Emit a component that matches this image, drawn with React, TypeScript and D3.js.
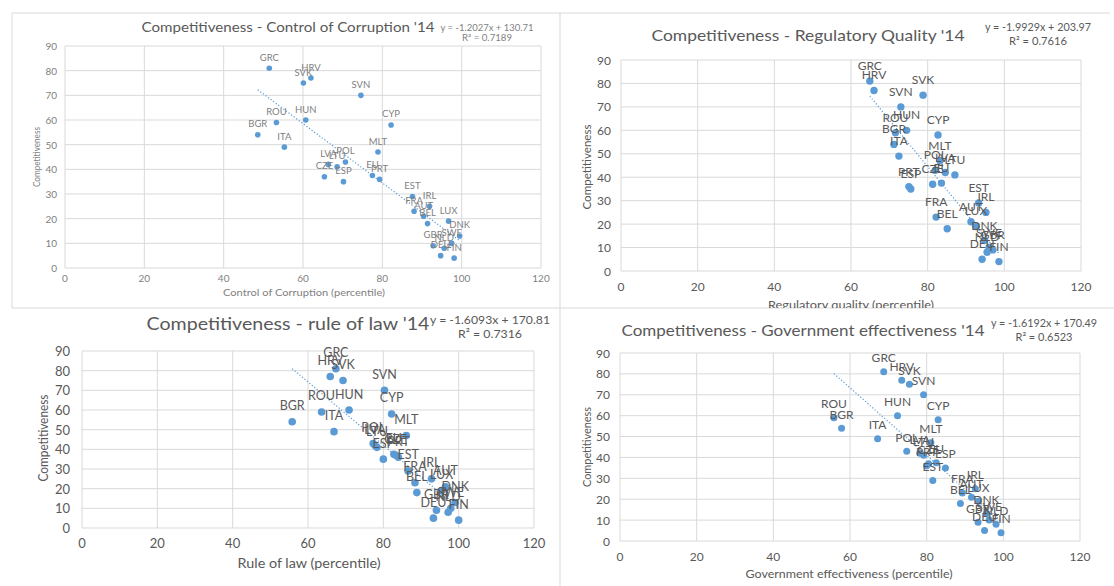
import React from 'react';
import * as d3 from 'd3';

// EU member states + EU average
const countries = ['GRC', 'HRV', 'SVK', 'SVN', 'HUN', 'ROU', 'CYP', 'BGR', 'ITA', 'MLT', 'POL', 'LVA', 'LTU', 'EU', 'CZE', 'PRT', 'ESP', 'EST', 'IRL', 'FRA', 'AUT', 'LUX', 'BEL', 'DNK', 'SWE', 'GBR', 'NLD', 'DEU', 'FIN'];
const competitiveness = [81, 77, 75, 70, 60, 59, 58, 54, 49, 47, 43, 42, 41, 37.5, 37, 36, 35, 29, 25, 23, 21, 19, 18, 13, 10, 9, 8, 5, 4];

const controlOfCorruption = [51.5, 62.0, 60.1, 74.6, 60.7, 53.3, 82.2, 48.6, 55.3, 78.9, 70.7, 66.4, 68.6, 77.5, 65.4, 79.3, 70.2, 87.6, 91.9, 88.0, 90.4, 96.7, 91.4, 99.5, 97.5, 92.8, 95.6, 94.7, 98.1];
const regulatoryQuality = [64.9, 66.0, 78.8, 73.0, 74.5, 71.6, 82.7, 71.2, 72.5, 83.2, 82.0, 84.6, 87.1, 83.6, 81.3, 75.1, 75.6, 93.3, 95.2, 82.2, 91.3, 92.6, 85.1, 94.8, 96.0, 97.0, 95.5, 94.2, 98.6];
const ruleOfLaw = [67.4, 65.9, 69.3, 80.3, 70.9, 63.6, 82.2, 55.8, 66.9, 86.1, 77.3, 77.8, 78.3, 82.8, 83.3, 84.0, 80.0, 86.6, 92.8, 88.4, 96.5, 95.5, 88.9, 99.1, 97.9, 94.1, 97.2, 93.3, 100];
const governmentEffectiveness = [68.8, 73.5, 75.5, 79.2, 72.4, 55.8, 83.0, 57.8, 67.2, 81.1, 74.8, 78.2, 79.2, 82.5, 80.5, 80.0, 84.9, 81.6, 92.7, 89.3, 91.7, 93.5, 88.8, 95.6, 96.3, 93.4, 98.1, 95.1, 99.4];

const xTicks = [0, 20, 40, 60, 80, 100, 120];
const yTicks = [0, 10, 20, 30, 40, 50, 60, 70, 80, 90];

const titles = [
  "Competitiveness - Control of Corruption '14",
  "Competitiveness - Regulatory Quality '14",
  "Competitiveness - rule of law '14",
  "Competitiveness - Government effectiveness '14",
];
const xTitles = [
  'Control of Corruption (percentile)',
  'Regulatory quality (percentile)',
  'Rule of law (percentile)',
  'Government effectiveness (percentile)',
];
const slopes = [-1.2027, -1.9929, -1.6093, -1.6192];
const intercepts = [130.71, 203.97, 170.81, 170.49];
const rSquared = ['0.7189', '0.7616', '0.7316', '0.6523'];
const xSeries = [controlOfCorruption, regulatoryQuality, ruleOfLaw, governmentEffectiveness];

const BLUE = '#5B9BD5';
const GRID = '#d9d9d9';
const FONT = 'Lato, "Open Sans", sans-serif';

// layout of each panel (pixel positions)
const layouts = [
  { left: 65, right: 541, top: 46, bottom: 268, titleX: 288, titleY: 27, titleSize: 12.5, titleW: 293,
    eqX: 487, eqY: 28, r2Y: 38, eqSize: 8.5, eqW: 93, r2W: 50, tick: 10, xTickY: 278, yTickX: 57,
    xtX: 304, xtY: 292, xtSize: 10, xtW: 162, ytX: 36, ytY: 157, ytW: 60, lab: 9.5, labOff: 11, r: 2.8, col: '#7f7f7f' },
  { left: 621, right: 1081, top: 60, bottom: 271, titleX: 808, titleY: 34, titleSize: 16, titleW: 313,
    eqX: 1038, eqY: 27, r2Y: 41, eqSize: 10.5, eqW: 106, r2W: 58, tick: 12, xTickY: 286, yTickX: 611,
    xtX: 851, xtY: 304, xtSize: 11.5, xtW: 166, ytX: 586, ytY: 167, ytW: 85, lab: 12, labOff: 15.5, r: 3.7, col: '#595959' },
  { left: 82, right: 534, top: 351, bottom: 528, titleX: 288, titleY: 324, titleSize: 16.5, titleW: 283,
    eqX: 490, eqY: 319, r2Y: 333, eqSize: 12, eqW: 120, r2W: 64, tick: 13, xTickY: 543, yTickX: 70,
    xtX: 309, xtY: 563, xtSize: 13, xtW: 143, ytX: 43, ytY: 438, ytW: 87, lab: 12.5, labOff: 16, r: 3.8, col: '#595959' },
  { left: 620, right: 1080, top: 353, bottom: 541, titleX: 803, titleY: 329, titleSize: 16, titleW: 363,
    eqX: 1044, eqY: 323, r2Y: 337, eqSize: 10.5, eqW: 106, r2W: 57, tick: 12, xTickY: 556, yTickX: 610,
    xtX: 849, xtY: 573, xtSize: 12, xtW: 207, ytX: 586, ytY: 447, ytW: 80, lab: 12, labOff: 14, r: 3.5, col: '#595959' },
];

function Panel({ idx }: { idx: number }) {
  const L = layouts[idx];
  const xs = xSeries[idx];
  const x = d3.scaleLinear().domain([0, 120]).range([L.left, L.right]);
  const y = d3.scaleLinear().domain([0, 90]).range([L.bottom, L.top]);
  const [minX, maxX] = d3.extent(xs) as [number, number];
  const trend = d3.line<number>()
    .x((v) => x(v))
    .y((v) => y(slopes[idx] * v + intercepts[idx]))([minX, maxX]);
  const sign = intercepts[idx] >= 0 ? '+' : '-';
  const eq = `y = ${slopes[idx]}x ${sign} ${Math.abs(intercepts[idx]).toFixed(2)}`;
  const xTitle = (
    <text x={L.xtX} y={L.xtY} fontSize={L.xtSize} fill={L.col} textAnchor="middle" dominantBaseline="central"
      textLength={L.xtW} lengthAdjust="spacingAndGlyphs">{xTitles[idx]}</text>
  );

  return (
    <g fontFamily={FONT}>
      {yTicks.map((t) => (
        <line key={'h' + t} x1={L.left} x2={L.right} y1={y(t)} y2={y(t)} stroke={GRID} strokeWidth={1} />
      ))}
      {xTicks.map((t) => (
        <line key={'v' + t} x1={x(t)} x2={x(t)} y1={L.top} y2={L.bottom} stroke={GRID} strokeWidth={1} />
      ))}
      {yTicks.map((t) => (
        <text key={'yt' + t} x={L.yTickX} y={y(t)} fontSize={L.tick} fill={L.col} textAnchor="end" dominantBaseline="central">{t}</text>
      ))}
      {xTicks.map((t) => (
        <text key={'xt' + t} x={x(t)} y={L.xTickY} fontSize={L.tick} fill={L.col} textAnchor="middle" dominantBaseline="central">{t}</text>
      ))}
      <path d={trend || ''} fill="none" stroke={BLUE} strokeWidth={1.2} strokeDasharray="1.2 2" />
      {xs.map((v, i) => (
        <circle key={'c' + i} cx={x(v)} cy={y(competitiveness[i])} r={L.r} fill={BLUE} />
      ))}
      {xs.map((v, i) => (
        <text key={'l' + i} x={x(v)} y={y(competitiveness[i]) - L.labOff} fontSize={L.lab} fill={L.col}
          textAnchor="middle" dominantBaseline="central">{countries[i]}</text>
      ))}
      <text x={L.titleX} y={L.titleY} fontSize={L.titleSize} fill="#595959" textAnchor="middle" dominantBaseline="central"
        textLength={L.titleW} lengthAdjust="spacingAndGlyphs">{titles[idx]}</text>
      <text x={L.eqX} y={L.eqY} fontSize={L.eqSize} fill={L.col} textAnchor="middle" dominantBaseline="central"
        textLength={L.eqW} lengthAdjust="spacingAndGlyphs">{eq}</text>
      <text x={L.eqX} y={L.r2Y} fontSize={L.eqSize} fill={L.col} textAnchor="middle" dominantBaseline="central"
        textLength={L.r2W} lengthAdjust="spacingAndGlyphs">{'R² = ' + rSquared[idx]}</text>
      {idx === 1 ? <g clipPath="url(#clipTop)">{xTitle}</g> : xTitle}
      <text transform={`translate(${L.ytX},${L.ytY}) rotate(-90)`} fontSize={L.xtSize} fill={L.col} textAnchor="middle"
        dominantBaseline="central" textLength={L.ytW} lengthAdjust="spacingAndGlyphs">Competitiveness</text>
    </g>
  );
}

export default function App() {
  return (
    <div style={{ position: 'absolute', left: 0, top: 0 }}>
      <svg width={1114} height={586} style={{ display: 'block', background: '#fff' }}>
        <defs>
          <clipPath id="clipTop">
            <rect x={560} y={0} width={554} height={308} />
          </clipPath>
        </defs>
        <rect x={0} y={0} width={1114} height={586} fill="#fff" />
        {/* panel frames */}
        <line x1={12} x2={1110} y1={13} y2={13} stroke={GRID} />
        <line x1={12} x2={12} y1={13} y2={308} stroke={GRID} />
        <line x1={560} x2={560} y1={13} y2={586} stroke={GRID} />
        <line x1={12} x2={1114} y1={308} y2={308} stroke={GRID} />
        {[0, 1, 2, 3].map((i) => <Panel key={i} idx={i} />)}
      </svg>
    </div>
  );
}
